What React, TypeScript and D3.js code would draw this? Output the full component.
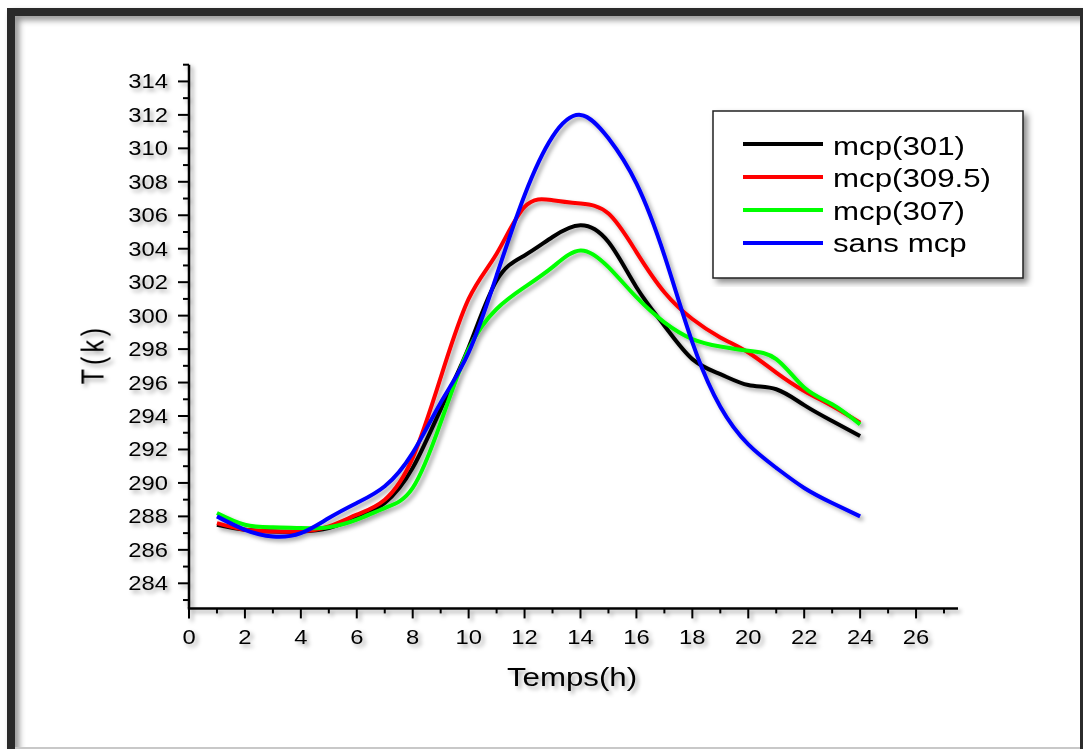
import React from "react";
import * as d3 from "d3";

const hours = [1, 2, 3, 4, 5, 6, 7, 8, 9, 10, 11, 12, 13, 14, 15, 16, 17, 18, 19, 20, 21, 22, 23, 24];
const mcp301 = [287.5, 287.2, 287.1, 287.1, 287.3, 287.9, 288.8, 290.9, 294.4, 298.1, 302.1, 303.6, 304.7, 305.4, 304.4, 301.7, 299.4, 297.4, 296.5, 295.85, 295.6, 294.65, 293.7, 292.8];
const mcp3095 = [287.6, 287.2, 287.1, 287.1, 287.4, 288.1, 289.0, 291.5, 296.3, 301.0, 303.7, 306.5, 306.9, 306.7, 306.1, 303.8, 301.4, 299.8, 298.7, 297.8, 296.6, 295.5, 294.6, 293.6];
const mcp307 = [288.2, 287.5, 287.35, 287.3, 287.35, 287.8, 288.5, 289.7, 293.6, 298.0, 300.4, 301.7, 302.9, 303.9, 302.9, 301.1, 299.6, 298.6, 298.15, 297.9, 297.4, 295.7, 294.7, 293.5];
const sansMcp = [288.0, 287.2, 286.8, 287.0, 287.9, 288.8, 289.8, 291.8, 294.8, 297.8, 302.4, 307.2, 310.7, 312.0, 310.6, 307.9, 303.6, 298.4, 294.55, 292.3, 290.9, 289.7, 288.8, 288.0];

const seriesNames = ["mcp(301)", "mcp(309.5)", "mcp(307)", "sans mcp"];
const seriesColors = ["#000000", "#ff0000", "#00ff00", "#0000ff"];
const seriesValues = [mcp301, mcp3095, mcp307, sansMcp];

const xMajorTicks = [0, 2, 4, 6, 8, 10, 12, 14, 16, 18, 20, 22, 24, 26];
const xMinorTicks = [1, 3, 5, 7, 9, 11, 13, 15, 17, 19, 21, 23, 25, 27];
const yMajorTicks = [284, 286, 288, 290, 292, 294, 296, 298, 300, 302, 304, 306, 308, 310, 312, 314];
const yMinorTicks = [283, 285, 287, 289, 291, 293, 295, 297, 299, 301, 303, 305, 307, 309, 311, 313, 315];

const W = 1083;
const H = 749;
const SX = 1.22;

export default function App() {
  const x = d3.scaleLinear().domain([0, 27.5]).range([189, 958]);
  const y = d3.scaleLinear().domain([282.5, 315]).range([608.4, 64.7]);
  const line = d3
    .line<number>()
    .x((_, i) => x(hours[i]))
    .y((d) => y(d))
    .curve(d3.curveNatural);

  const font = "Arial, 'Liberation Sans', Helvetica, sans-serif";
  const x0 = x(0);
  const yB = y(282.5);

  return (
    <svg
      width={W}
      height={H}
      style={{ position: "absolute", left: 0, top: 0, background: "#fff" }}
      fontFamily={font}
    >
      <defs>
        <filter id="sh" x="-20%" y="-20%" width="140%" height="140%">
          <feDropShadow dx="3" dy="3" stdDeviation="2" floodColor="#000" floodOpacity="0.35" />
        </filter>
        <filter id="shf" x="-5%" y="-5%" width="110%" height="110%">
          <feDropShadow dx="4" dy="4" stdDeviation="3" floodColor="#000" floodOpacity="0.45" />
        </filter>
      </defs>
      <rect x={0} y={0} width={W} height={H} fill="#fff" />

      {/* frame */}
      <g filter="url(#shf)">
        <rect x={7} y={8} width={8} height={H - 8} fill="#2b2b2b" />
        <rect x={7} y={8} width={W - 7} height={8} fill="#2b2b2b" />
      </g>
      <rect x={1080} y={8} width={3} height={H - 8} fill="#2b2b2b" />
      <rect x={15} y={747} width={1065} height={2} fill="#c8c8c8" />

      {/* axes */}
      <g filter="url(#sh)" stroke="#000">
        <line x1={x0} x2={x0} y1={y(315)} y2={yB} strokeWidth={2.5} />
        <line x1={x0 - 1.2} x2={x(27.5)} y1={yB} y2={yB} strokeWidth={2.5} />
        {yMajorTicks.map((t) => (
          <line key={"ym" + t} x1={x0 - 11} x2={x0} y1={y(t)} y2={y(t)} strokeWidth={2} />
        ))}
        {yMinorTicks.map((t) => (
          <line key={"yn" + t} x1={x0 - 6} x2={x0} y1={y(t)} y2={y(t)} strokeWidth={2} />
        ))}
        {xMajorTicks.map((t) => (
          <line key={"xm" + t} x1={x(t)} x2={x(t)} y1={yB} y2={yB + 10} strokeWidth={2} />
        ))}
        {xMinorTicks.map((t) => (
          <line key={"xn" + t} x1={x(t)} x2={x(t)} y1={yB} y2={yB + 5} strokeWidth={2} />
        ))}
      </g>

      {/* tick labels */}
      <g filter="url(#sh)" fontSize={19.5} fill="#000">
        {yMajorTicks.map((t) => (
          <text key={"yl" + t} transform={`translate(${x0 - 21},${y(t) + 7}) scale(${SX},1)`} textAnchor="end">
            {t}
          </text>
        ))}
        {xMajorTicks.map((t) => (
          <text key={"xl" + t} transform={`translate(${x(t)},${yB + 36}) scale(${SX},1)`} textAnchor="middle">
            {t}
          </text>
        ))}
      </g>

      {/* axis titles */}
      <g filter="url(#sh)" fill="#000" fontSize={25}>
        <text transform={`translate(572,686) scale(1.25,1)`} textAnchor="middle">
          Temps(h)
        </text>
        <text transform={`translate(103,354) scale(1.25,1) rotate(-90)`} textAnchor="middle" letterSpacing={4}>
          T(k)
        </text>
      </g>

      {/* series */}
      <g filter="url(#sh)" fill="none" strokeWidth={4} strokeLinejoin="round">
        {seriesValues.map((vals, i) => (
          <path key={seriesNames[i]} d={line(vals) || ""} stroke={seriesColors[i]} />
        ))}
      </g>

      {/* legend */}
      <g>
        <rect x={713} y={111} width={310} height={167} fill="#fff" stroke="#222" strokeWidth={1.5} filter="url(#shf)" />
        {seriesNames.map((name, i) => (
          <g key={"lg" + name}>
            <line x1={743} x2={823} y1={144 + i * 33} y2={144 + i * 33} stroke={seriesColors[i]} strokeWidth={4} />
            <text transform={`translate(833,${155 + i * 32.3}) scale(1.25,1)`} fontSize={25} fill="#000">
              {name}
            </text>
          </g>
        ))}
      </g>
    </svg>
  );
}
